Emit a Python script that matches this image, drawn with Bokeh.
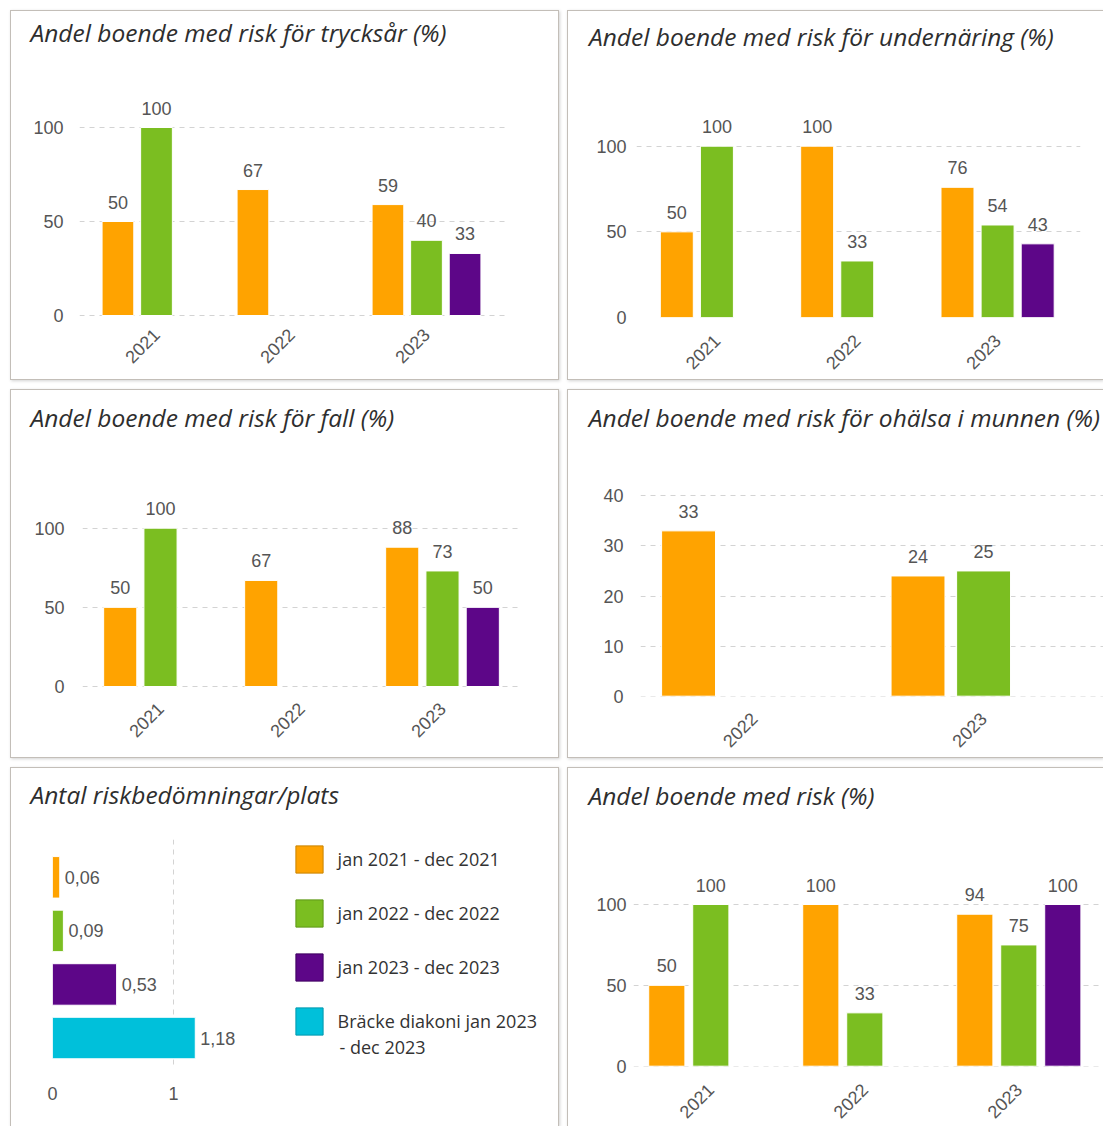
import math

from bokeh.core.properties import value
from bokeh.embed import file_html
from bokeh.layouts import column, row
from bokeh.models import (ColumnDataSource, FixedTicker, Label, Legend, LegendItem,
                          Range1d, Title)
from bokeh.plotting import figure
from bokeh.resources import INLINE

# ---------------------------------------------------------------- data
years = ["2021", "2022", "2023"]
oral_years = ["2022", "2023"]

periods = ["jan 2021 - dec 2021", "jan 2022 - dec 2022", "jan 2023 - dec 2023"]
benchmark = ["Bräcke diakoni jan 2023", "- dec 2023"]

pressure_2021 = [50, 67, 59]
pressure_2022 = [100, None, 40]
pressure_2023 = [None, None, 33]

malnutrition_2021 = [50, 100, 76]
malnutrition_2022 = [100, 33, 54]
malnutrition_2023 = [None, None, 43]

falls_2021 = [50, 67, 88]
falls_2022 = [100, None, 73]
falls_2023 = [None, None, 50]

oral_2021 = [33, 24]
oral_2022 = [None, 25]
oral_2023 = [None, None]

any_risk_2021 = [50, 100, 94]
any_risk_2022 = [100, 33, 75]
any_risk_2023 = [None, None, 100]

assessment_labels = periods + [benchmark[0]]
assessments_per_place = [0.06, 0.09, 0.53, 1.18]

# ---------------------------------------------------------------- style
ORANGE, GREEN, PURPLE, CYAN = "#FFA300", "#7BBE21", "#5D0688", "#00C0DA"
period_colors = [ORANGE, GREEN, PURPLE]
assessment_colors = [ORANGE, GREEN, PURPLE, CYAN]
assessment_edges = ["#C98300", "#5E9818", "#3E0160", "#0098AE"]

TITLE_FONT = "Open Sans"
TITLE_SIZE = 24.5
NUM_FONT = "Liberation Sans"
TEXT_GREY = "#555555"
GRID = "#d3d3d3"

SLOT = 2 / 7          # distance between bars inside a year group
BAR_W = 0.235         # bar width in category units


def panel_styles(open_right=False, open_bottom=False):
    st = {"border": "1px solid #c3beb8",
          "box-shadow": "1px 1px 3px rgba(0,0,0,0.18)",
          "box-sizing": "border-box"}
    if open_right:
        st["border-right"] = "none"
    if open_bottom:
        st["border-bottom"] = "none"
    return st


def canvas_box(box):
    # the drawing canvas sits inside the 1px panel border
    x0, y0, W, H = box
    return x0 + 1, y0 + 1, x0 + 1 + W, y0 + 1 + H


def style_axis(ax, size):
    ax.axis_line_color = None
    ax.major_tick_line_color = None
    ax.minor_tick_line_color = None
    ax.major_tick_out = 0
    ax.major_tick_in = 0
    ax.minor_tick_out = 0
    ax.major_label_text_font = NUM_FONT
    ax.major_label_text_font_size = size
    ax.major_label_text_color = TEXT_GREY


def add_title(p, text, title_x, frame_left, title_center, frame_top):
    # a thin spacer between the frame and the heading sets its height
    gap = frame_top - title_center - 2 - 0.6 * TITLE_SIZE
    p.add_layout(Title(text=" ", text_font_size="1px", standoff=max(gap - 3.5, 0)), "above")
    p.add_layout(Title(text=text, align="left", vertical_align="top", standoff=0,
                       offset=title_x - frame_left, text_font=TITLE_FONT,
                       text_font_style="italic", text_font_size=f"{TITLE_SIZE}px",
                       text_color="#2e2e2e"), "above")


def bar_panel(title, cats, series, box, frame_lr, center0, step, zero_y, ppu,
              frame_tb, ticks, ylabel_right, xlabel_gap, title_x, title_center,
              open_right=False, open_bottom=False):
    cl, ct, cr, cb = canvas_box(box)
    fl, fr = frame_lr
    ft, fb = frame_tb
    p = figure(width=box[2], height=box[3], output_backend="svg", toolbar_location=None,
               title=None,
               x_range=Range1d((fl - center0) / step, (fr - center0) / step),
               y_range=Range1d(-(fb - zero_y) / ppu, (zero_y - ft) / ppu),
               min_border_left=round(fl - cl), min_border_right=round(cr - fr),
               min_border_top=round(ft - ct), min_border_bottom=round(cb - fb),
               outline_line_color=None, styles=panel_styles(open_right, open_bottom))
    add_title(p, title, title_x, fl, title_center, ft)

    for k, (vals, color) in enumerate(zip(series, period_colors)):
        xs = [i + (k - 1) * SLOT for i, v in enumerate(vals) if v is not None]
        tops = [v for v in vals if v is not None]
        if not xs:
            continue
        src = ColumnDataSource(dict(x=xs, top=tops, lab=[str(v) for v in tops]))
        p.vbar(x="x", top="top", width=BAR_W, source=src, fill_color=color,
               line_color="white", line_width=1)
        p.text(x="x", y="top", text="lab", source=src, text_align="center",
               text_baseline="bottom", y_offset=-13, text_font=value(NUM_FONT),
               text_font_size="18px", text_color=TEXT_GREY)

    p.xgrid.visible = False
    p.ygrid.ticker = FixedTicker(ticks=ticks)
    p.ygrid.grid_line_color = GRID
    p.ygrid.grid_line_dash = "5 5"

    p.yaxis.ticker = FixedTicker(ticks=ticks)
    style_axis(p.yaxis[0], "18px")
    p.yaxis.major_label_standoff = round(fl - ylabel_right)

    p.xaxis.ticker = FixedTicker(ticks=list(range(len(cats))))
    p.xaxis.major_label_overrides = {i: c for i, c in enumerate(cats)}
    style_axis(p.xaxis[0], "18px")
    p.xaxis.major_label_orientation = math.pi / 4
    p.xaxis.major_label_standoff = round(xlabel_gap + 2 - (fb - zero_y))
    return p


# ------------------------------------------------------------ panels
ROW1 = (70, 317)     # frame top / bottom shared by each row
ROW2 = (460, 696)
ROW3 = (839, 1067)

p_pressure = bar_panel("Andel boende med risk för trycksår (%)", years,
                       [pressure_2021, pressure_2022, pressure_2023],
                       box=(10, 10, 549, 370), frame_lr=(79, 505), center0=156, step=135,
                       zero_y=315, ppu=1.88, frame_tb=ROW1, ticks=[0, 50, 100],
                       ylabel_right=63, xlabel_gap=14, title_x=30, title_center=33)

p_malnutrition = bar_panel("Andel boende med risk för undernäring (%)", years,
                           [malnutrition_2021, malnutrition_2022, malnutrition_2023],
                           box=(567, 10, 536, 370), frame_lr=(635.5, 1080), center0=716,
                           step=140.5, zero_y=317, ppu=1.713, frame_tb=ROW1,
                           ticks=[0, 50, 100], ylabel_right=626, xlabel_gap=18,
                           title_x=588, title_center=37, open_right=True)

p_falls = bar_panel("Andel boende med risk för fall (%)", years,
                    [falls_2021, falls_2022, falls_2023],
                    box=(10, 389, 549, 369), frame_lr=(82, 518), center0=160, step=141,
                    zero_y=686, ppu=1.583, frame_tb=ROW2, ticks=[0, 50, 100],
                    ylabel_right=64, xlabel_gap=17, title_x=30, title_center=418)

p_oral = bar_panel("Andel boende med risk för ohälsa i munnen (%)", oral_years,
                   [oral_2021, oral_2022, oral_2023],
                   box=(567, 389, 536, 369), frame_lr=(639.7, 1103), center0=753.4,
                   step=229.6, zero_y=695.7, ppu=5.01, frame_tb=ROW2,
                   ticks=[0, 10, 20, 30, 40], ylabel_right=623, xlabel_gap=17,
                   title_x=588, title_center=418, open_right=True)

p_any = bar_panel("Andel boende med risk (%)", years,
                  [any_risk_2021, any_risk_2022, any_risk_2023],
                  box=(567, 767, 536, 359), frame_lr=(633, 1103), center0=710.3, step=154,
                  zero_y=1066.7, ppu=1.624, frame_tb=ROW3, ticks=[0, 50, 100],
                  ylabel_right=626, xlabel_gap=18, title_x=588, title_center=796,
                  open_right=True, open_bottom=True)

# Horizontal bars: risk assessments per place, with the period legend
abox = (10, 767, 549, 359)
acl, act, acr, acb = canvas_box(abox)
a_zero, a_ppu = 52, 121          # value 0 position, px per unit
a_right = 545
a_top, a_bottom = ROW3
a_first, a_step = 877, 53.8      # first bar centre, bar pitch
p_assess = figure(width=abox[2], height=abox[3], output_backend="svg",
                  toolbar_location=None, title=None,
                  x_range=Range1d(0, (a_right - a_zero) / a_ppu),
                  y_range=Range1d((a_bottom - a_first) / a_step, -(a_first - a_top) / a_step),
                  min_border_left=a_zero - acl, min_border_right=acr - a_right,
                  min_border_top=a_top - act, min_border_bottom=acb - a_bottom,
                  outline_line_color=None, styles=panel_styles(open_bottom=True))
add_title(p_assess, "Antal riskbedömningar/plats", 30, a_zero, 795, a_top)

asrc = ColumnDataSource(dict(
    y=list(range(len(assessments_per_place))),
    v=assessments_per_place,
    color=assessment_colors,
    edge=assessment_edges,
    lab=[f"{v:.2f}".replace(".", ",") for v in assessments_per_place],
))
p_assess.hbar(y="y", left=0, right="v", height=0.775, source=asrc,
              fill_color="color", line_color="white", line_width=1)
swatch = p_assess.hbar(y="y", left=0, right="v", height=0.775, source=asrc,
                       fill_color="color", line_color="edge", line_width=1, visible=False)
p_assess.text(x="v", y="y", text="lab", source=asrc, x_offset=5, text_align="left",
              text_baseline="middle", text_font=value(NUM_FONT), text_font_size="18px",
              text_color=TEXT_GREY)

p_assess.ygrid.visible = False
p_assess.yaxis.visible = False
p_assess.xgrid.ticker = FixedTicker(ticks=[0, 1])
p_assess.xgrid.grid_line_color = GRID
p_assess.xgrid.grid_line_dash = "5 5"
p_assess.xaxis.ticker = FixedTicker(ticks=[0, 1])
style_axis(p_assess.xaxis[0], "18px")
p_assess.xaxis.major_label_standoff = 20

# legend swatches: 34px glyph boxes draw as ~27px squares
leg_left, leg_top = 291.6, 830.6
leg_height = 6 * 2 + 34 * 4 + 20 * 3
legend = Legend(
    items=[LegendItem(label=lab, renderers=[swatch], index=i)
           for i, lab in enumerate(assessment_labels)],
    location=(leg_left - a_zero, a_bottom - (leg_top + leg_height)),
    orientation="vertical", margin=0, padding=6,
    glyph_width=34, glyph_height=34, spacing=20, label_standoff=12,
    label_text_font=TITLE_FONT, label_text_font_size="18px", label_text_color="#333333",
    border_line_color=None, background_fill_alpha=0,
)
p_assess.add_layout(legend)
p_assess.add_layout(Label(x=339 - a_zero, y=a_bottom - 1047, x_units="screen",
                          y_units="screen", text=benchmark[1], text_baseline="middle",
                          text_font=TITLE_FONT, text_font_size="18px",
                          text_color="#333333"))

# ------------------------------------------------------------- layout
grid = column(
    row(p_pressure, p_malnutrition, spacing=8),
    row(p_falls, p_oral, spacing=8),
    row(p_assess, p_any, spacing=8),
    spacing=9, margin=(10, 0, 0, 10),
)

with open("out.html", "w") as f:
    f.write(file_html(grid, INLINE, title="Riskbedömningar"))
